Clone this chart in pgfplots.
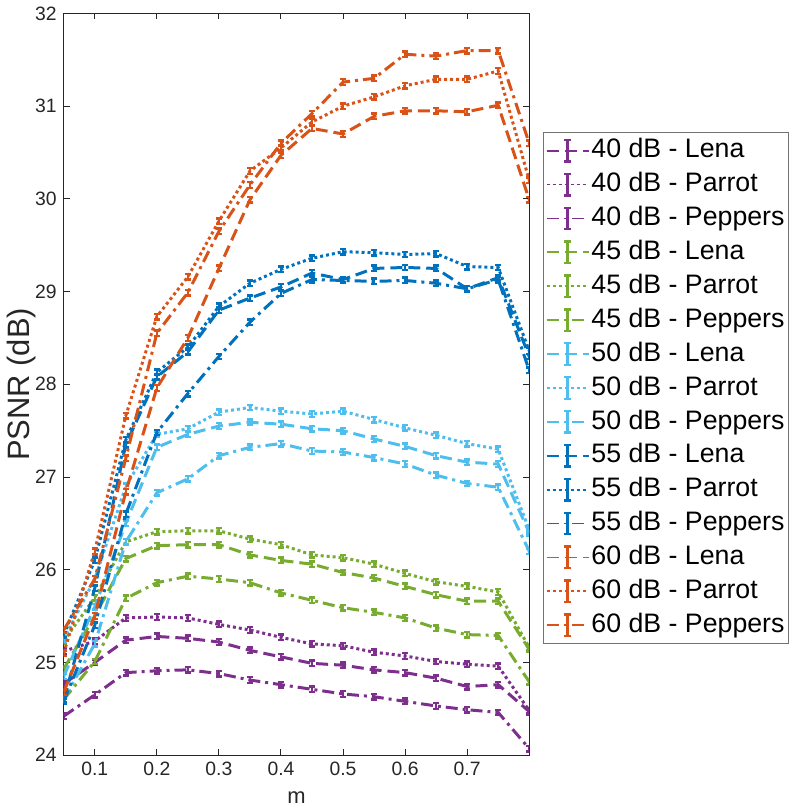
\documentclass[border=0pt]{standalone}
\usepackage{pgfplots}
\pgfplotsset{compat=1.18}
\usepackage{fontspec}
\setmainfont{Liberation Sans}
\definecolor{cpur}{rgb}{0.494,0.184,0.556}
\definecolor{cgrn}{rgb}{0.466,0.674,0.188}
\definecolor{clbl}{rgb}{0.301,0.745,0.933}
\definecolor{cdbl}{rgb}{0,0.447,0.741}
\definecolor{corg}{rgb}{0.85,0.325,0.098}
\definecolor{axgray}{rgb}{0.15,0.15,0.15}
\pgfplotsset{
  lena/.style={dash pattern=on 6pt off 3pt},
  parrot/.style={dash pattern=on 1.5pt off 1.5pt},
  peppers/.style={dash pattern=on 6pt off 2.5pt on 1.5pt off 2.5pt},
}
\begin{document}
\begin{tikzpicture}
\begin{axis}[
  scale only axis, width=233.5pt, height=372pt,
  xmin=0.05, xmax=0.8, ymin=24, ymax=32,
  xtick={0.1,0.2,0.3,0.4,0.5,0.6,0.7},
  ytick={24,25,26,27,28,29,30,31,32},
  xticklabel style={/pgf/number format/.cd, fixed, fixed zerofill, precision=1},
  /pgf/number format/assume math mode=true,
  tick label style={font=\fontsize{9.7}{10}\selectfont, text=axgray},
  xlabel style={font=\fontsize{11}{12}\selectfont, text=axgray, yshift=-1pt},
  ylabel style={font=\fontsize{15.5}{16}\selectfont, text=axgray, yshift=-7pt},
  xlabel={m}, ylabel={PSNR (dB)},
  axis line style={axgray, line width=0.5pt},
  tick style={axgray, line width=0.5pt},
  major tick length=3pt,
  tick align=inside,
  every axis plot/.append style={line width=1.5pt},
  error bars/y dir=both, error bars/y fixed=0.03,
  error bars/error bar style={solid, line width=1.2pt},
  error bars/error mark options={solid, line width=1.2pt, mark size=1.5pt, rotate=90},
  legend image code/.code={
    \draw[#1, line width=0.9pt] (0pt,0pt) -- (21pt,0pt);
    \draw[#1, solid, line width=1.2pt] (10.5pt,-5.4pt) -- (10.5pt,5.4pt)
      (8.7pt,-5.4pt) -- (12.3pt,-5.4pt) (8.7pt,5.4pt) -- (12.3pt,5.4pt);
  },
  legend style={at={(1.03,0.84)}, anchor=north west, draw=black!55, line width=0.6pt,
    font=\fontsize{13.4}{14}\selectfont, row sep=5pt, inner xsep=1pt, inner ysep=3pt,
    nodes={inner xsep=1pt, inner ysep=0pt, text height=9.6pt, text depth=2.4pt}},
  legend cell align=left,
]
% 40 dB
\addplot[cpur, lena] coordinates {(0.05,24.77)(0.1,25.0)(0.15,25.24)(0.2,25.28)(0.25,25.26)(0.3,25.22)(0.35,25.13)(0.4,25.06)(0.45,24.99)(0.5,24.97)(0.55,24.92)(0.6,24.89)(0.65,24.83)(0.7,24.74)(0.75,24.76)(0.8,24.47)};
\addlegendentry{40 dB - Lena}
\addplot[cpur, parrot] coordinates {(0.05,25.12)(0.1,25.23)(0.15,25.48)(0.2,25.49)(0.25,25.48)(0.3,25.41)(0.35,25.35)(0.4,25.27)(0.45,25.20)(0.5,25.18)(0.55,25.11)(0.6,25.07)(0.65,25.01)(0.7,24.98)(0.75,24.96)(0.8,24.48)};
\addlegendentry{40 dB - Parrot}
\addplot[cpur, peppers] coordinates {(0.05,24.42)(0.1,24.65)(0.15,24.89)(0.2,24.91)(0.25,24.92)(0.3,24.88)(0.35,24.81)(0.4,24.76)(0.45,24.71)(0.5,24.66)(0.55,24.63)(0.6,24.58)(0.65,24.53)(0.7,24.49)(0.75,24.46)(0.8,24.07)};
\addlegendentry{40 dB - Peppers}
% 45 dB
\addplot[cgrn, lena] coordinates {(0.05,24.93)(0.1,25.5)(0.15,26.12)(0.2,26.26)(0.25,26.27)(0.3,26.27)(0.35,26.16)(0.4,26.10)(0.45,26.06)(0.5,25.97)(0.55,25.91)(0.6,25.82)(0.65,25.73)(0.7,25.66)(0.75,25.66)(0.8,25.14)};
\addlegendentry{45 dB - Lena}
\addplot[cgrn, parrot] coordinates {(0.05,25.23)(0.1,25.7)(0.15,26.3)(0.2,26.41)(0.25,26.42)(0.3,26.42)(0.35,26.33)(0.4,26.27)(0.45,26.16)(0.5,26.13)(0.55,26.06)(0.6,25.96)(0.65,25.87)(0.7,25.82)(0.75,25.76)(0.8,25.16)};
\addlegendentry{45 dB - Parrot}
\addplot[cgrn, peppers] coordinates {(0.05,24.6)(0.1,25.01)(0.15,25.69)(0.2,25.86)(0.25,25.93)(0.3,25.90)(0.35,25.86)(0.4,25.75)(0.45,25.67)(0.5,25.59)(0.55,25.54)(0.6,25.48)(0.65,25.37)(0.7,25.30)(0.75,25.29)(0.8,24.79)};
\addlegendentry{45 dB - Peppers}
% 50 dB
\addplot[clbl, lena] coordinates {(0.05,24.85)(0.1,25.6)(0.15,26.5)(0.2,27.32)(0.25,27.46)(0.3,27.55)(0.35,27.59)(0.4,27.57)(0.45,27.52)(0.5,27.50)(0.55,27.41)(0.6,27.33)(0.65,27.23)(0.7,27.16)(0.75,27.14)(0.8,26.40)};
\addlegendentry{50 dB - Lena}
\addplot[clbl, parrot] coordinates {(0.05,25.25)(0.1,25.9)(0.15,26.9)(0.2,27.46)(0.25,27.52)(0.3,27.70)(0.35,27.75)(0.4,27.71)(0.45,27.68)(0.5,27.71)(0.55,27.62)(0.6,27.53)(0.65,27.45)(0.7,27.36)(0.75,27.30)(0.8,26.43)};
\addlegendentry{50 dB - Parrot}
\addplot[clbl, peppers] coordinates {(0.05,24.6)(0.1,25.2)(0.15,26.3)(0.2,26.83)(0.25,26.98)(0.3,27.23)(0.35,27.32)(0.4,27.36)(0.45,27.28)(0.5,27.27)(0.55,27.21)(0.6,27.14)(0.65,27.02)(0.7,26.93)(0.75,26.89)(0.8,26.20)};
\addlegendentry{50 dB - Peppers}
% 55 dB
\addplot[cdbl, lena] coordinates {(0.05,24.6)(0.1,25.8)(0.15,27.35)(0.2,28.08)(0.25,28.35)(0.3,28.8)(0.35,28.93)(0.4,29.05)(0.45,29.2)(0.5,29.13)(0.55,29.25)(0.6,29.26)(0.65,29.25)(0.7,29.03)(0.75,29.15)(0.8,28.30)};
\addlegendentry{55 dB - Lena}
\addplot[cdbl, parrot] coordinates {(0.05,25.3)(0.1,26.1)(0.15,27.4)(0.2,28.13)(0.25,28.4)(0.3,28.84)(0.35,29.09)(0.4,29.24)(0.45,29.36)(0.5,29.43)(0.55,29.42)(0.6,29.40)(0.65,29.41)(0.7,29.27)(0.75,29.26)(0.8,28.36)};
\addlegendentry{55 dB - Parrot}
\addplot[cdbl, peppers] coordinates {(0.05,24.58)(0.1,25.4)(0.15,26.6)(0.2,27.48)(0.25,27.9)(0.3,28.3)(0.35,28.67)(0.4,28.98)(0.45,29.13)(0.5,29.12)(0.55,29.11)(0.6,29.12)(0.65,29.09)(0.7,29.03)(0.75,29.13)(0.8,28.15)};
\addlegendentry{55 dB - Peppers}
% 60 dB
\addplot[corg, lena] coordinates {(0.05,24.68)(0.1,25.5)(0.15,26.84)(0.2,27.96)(0.25,28.5)(0.3,29.25)(0.35,29.99)(0.4,30.47)(0.45,30.76)(0.5,30.70)(0.55,30.89)(0.6,30.95)(0.65,30.95)(0.7,30.94)(0.75,31.01)(0.8,29.99)};
\addlegendentry{60 dB - Lena}
\addplot[corg, parrot] coordinates {(0.05,25.1)(0.1,26.2)(0.15,27.66)(0.2,28.73)(0.25,29.16)(0.3,29.76)(0.35,30.3)(0.4,30.55)(0.45,30.83)(0.5,31.0)(0.55,31.1)(0.6,31.22)(0.65,31.29)(0.7,31.29)(0.75,31.38)(0.8,30.2)};
\addlegendentry{60 dB - Parrot}
\addplot[corg, peppers] coordinates {(0.05,25.35)(0.1,25.9)(0.15,27.2)(0.2,28.55)(0.25,28.99)(0.3,29.65)(0.35,30.15)(0.4,30.6)(0.45,30.92)(0.5,31.26)(0.55,31.3)(0.6,31.56)(0.65,31.54)(0.7,31.6)(0.75,31.6)(0.8,30.6)};
\addlegendentry{60 dB - Peppers}
\end{axis}
\end{tikzpicture}
\end{document}
